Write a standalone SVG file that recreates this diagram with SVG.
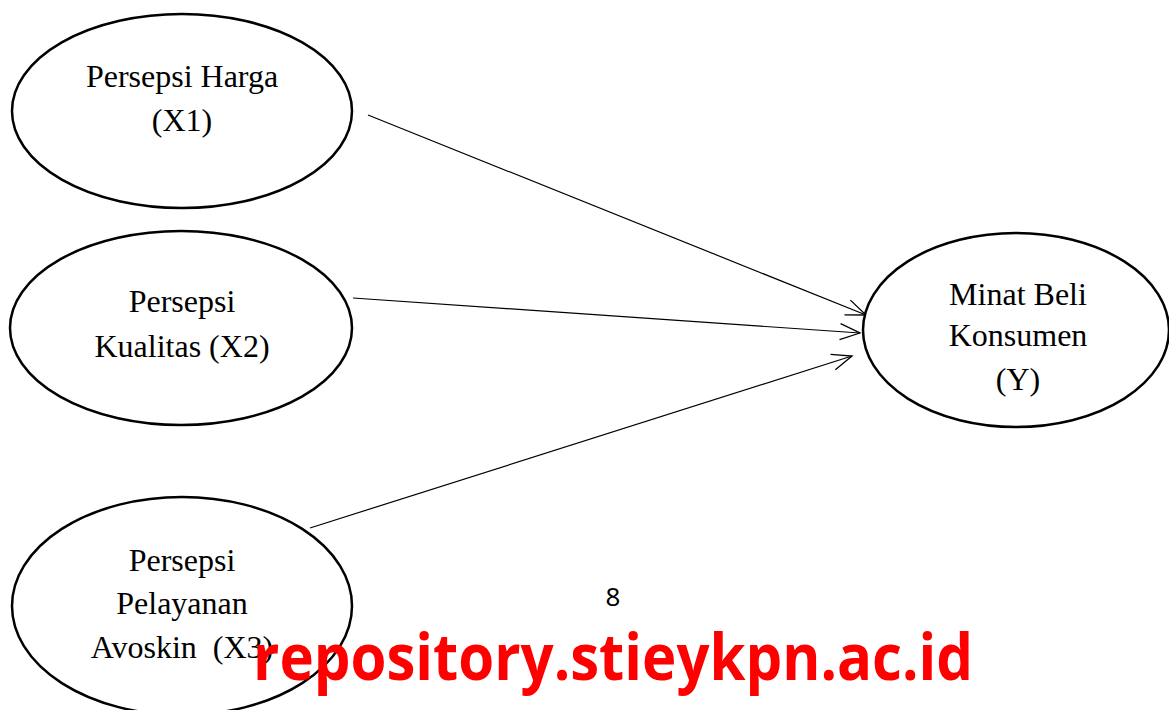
<svg xmlns="http://www.w3.org/2000/svg" width="1169" height="710" viewBox="0 0 1169 710">
<style>
.n{fill:#fff;stroke:#000;stroke-width:2.5}
.t{font-family:"Liberation Serif","Times New Roman",serif;font-size:32px;fill:#000;text-anchor:middle}
.c{stroke:#000;stroke-width:1.2;fill:none}
</style>
<defs>
<marker id="a" markerWidth="24" markerHeight="20" refX="22" refY="10" orient="auto" markerUnits="userSpaceOnUse">
<path d="M2,2 L22,10 L2,18" fill="none" stroke="#000" stroke-width="1.3"/>
</marker>
</defs>
<rect width="1169" height="710" fill="#fff"/>
<g id="connectors">
<line class="c" x1="368" y1="115" x2="866" y2="315" marker-end="url(#a)"/>
<line class="c" x1="353" y1="298" x2="860" y2="333" marker-end="url(#a)"/>
<line class="c" x1="310" y1="528" x2="852" y2="356" marker-end="url(#a)"/>
</g>
<g id="x1">
<ellipse class="n" cx="182" cy="111" rx="170" ry="97"/>
<text class="t" x="182" y="87">Persepsi Harga</text>
<text class="t" x="182" y="131">(X1)</text>
</g>
<g id="x2">
<ellipse class="n" cx="181" cy="328" rx="171" ry="97"/>
<text class="t" x="182" y="312">Persepsi</text>
<text class="t" x="182" y="357">Kualitas (X2)</text>
</g>
<g id="x3">
<ellipse class="n" cx="182" cy="606" rx="170" ry="109"/>
<text class="t" x="182" y="571">Persepsi</text>
<text class="t" x="182" y="614">Pelayanan</text>
<text class="t" x="182" y="658" xml:space="preserve">Avoskin  (X3)</text>
</g>
<g id="y">
<ellipse class="n" cx="1016" cy="330" rx="153" ry="97"/>
<text class="t" x="1018" y="305">Minat Beli</text>
<text class="t" x="1018" y="346">Konsumen</text>
<text class="t" x="1018" y="390">(Y)</text>
</g>
<text x="613" y="606" font-family="'Noto Sans','Open Sans',sans-serif" font-size="26" text-anchor="middle" fill="#000">8</text>
<text x="253" y="680" font-family="'Open Sans','Noto Sans',sans-serif" font-weight="bold" font-size="64" fill="#ff0000" textLength="720" lengthAdjust="spacingAndGlyphs">repository.stieykpn.ac.id</text>
</svg>
